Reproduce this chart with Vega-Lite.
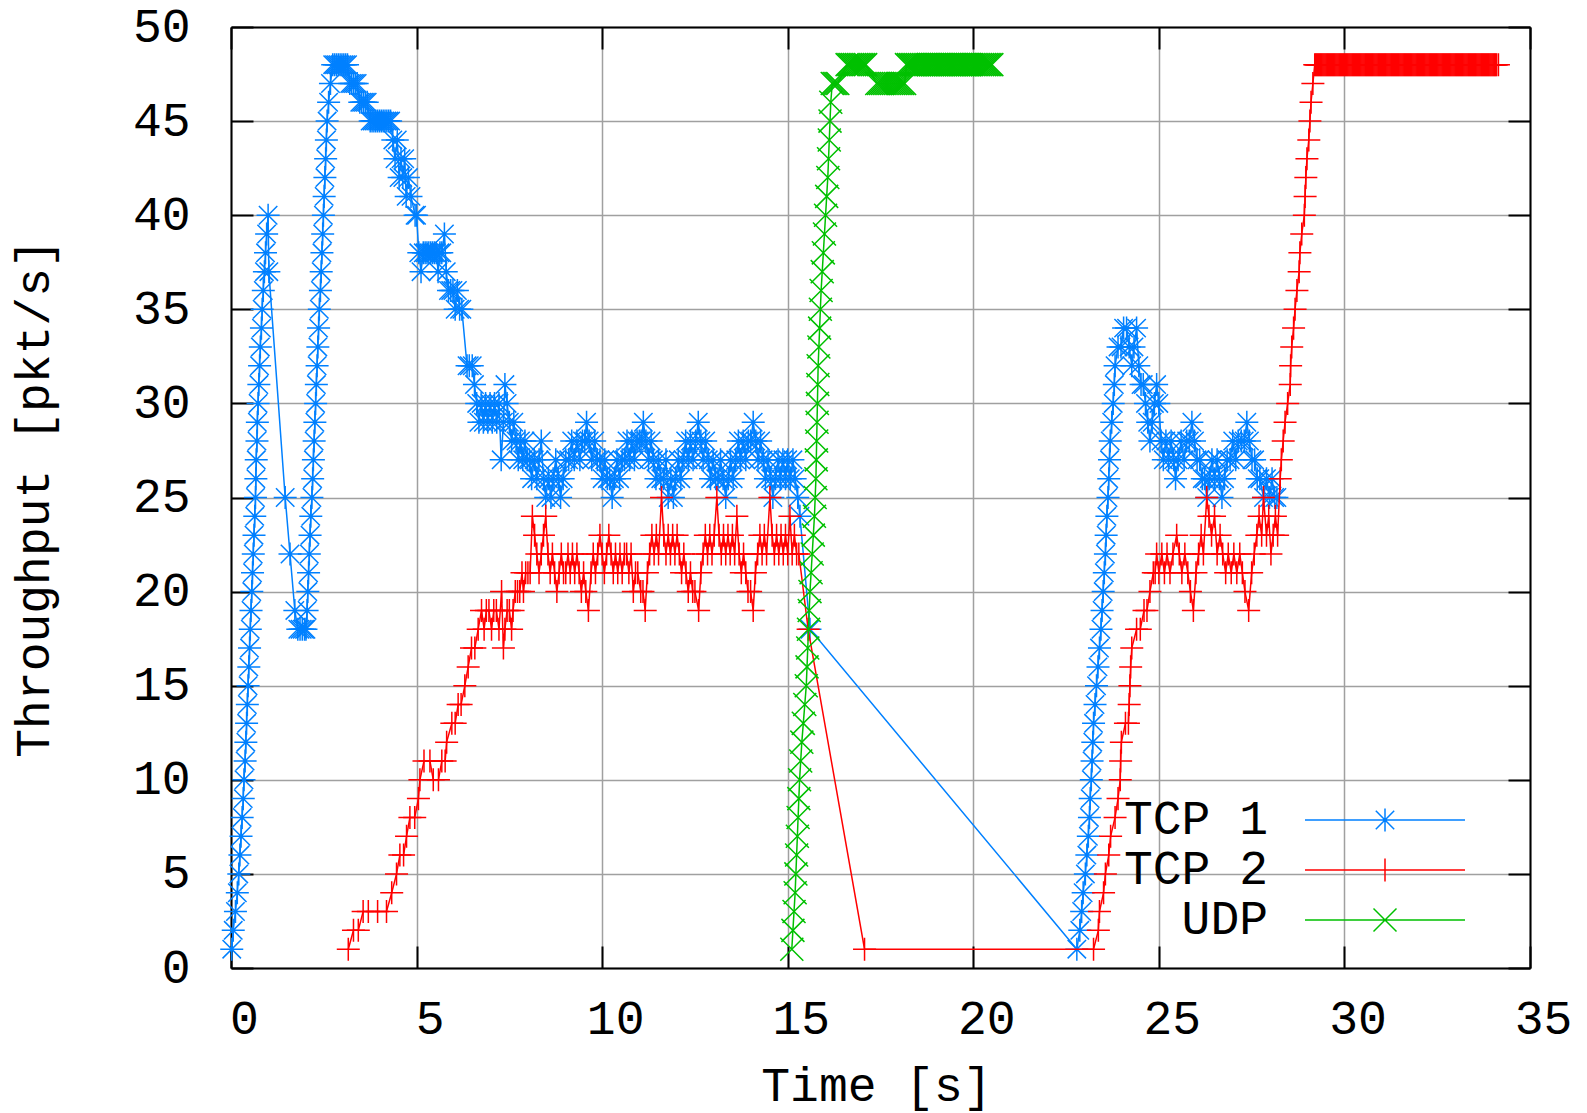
{
"$schema": "https://vega.github.io/schema/vega-lite/v6.json",
"width": 1299, "height": 941,
"autosize": {"type": "none"},
"padding": {"left": 231, "top": 27, "right": 57, "bottom": 145},
"background": "white",
"config": {
  "font": "Liberation Mono",
  "view": {"stroke": null},
  "axis": {"labelFont": "Liberation Mono", "labelFontSize": 48, "labelColor": "black", "titleFont": "Liberation Mono", "titleFontSize": 48, "titleFontWeight": "normal", "titleColor": "black", "domainColor": "black", "domainWidth": 2, "tickColor": "black", "tickWidth": 2, "tickSize": -22, "gridColor": "#a0a0a0", "gridWidth": 1.5, "gridOpacity": 1, "labelFlush": false, "labelOverlap": false}
},
"datasets": {
"tcp1": [{"t":0.02,"v":1},{"t":0.06,"v":2},{"t":0.12,"v":3},{"t":0.17,"v":4},{"t":0.21,"v":5},{"t":0.24,"v":6},{"t":0.27,"v":7},{"t":0.3,"v":8},{"t":0.33,"v":9},{"t":0.35,"v":10},{"t":0.38,"v":11},{"t":0.4,"v":12},{"t":0.42,"v":13},{"t":0.44,"v":14},{"t":0.46,"v":15},{"t":0.48,"v":16},{"t":0.5,"v":17},{"t":0.52,"v":18},{"t":0.54,"v":19},{"t":0.56,"v":20},{"t":0.58,"v":21},{"t":0.6,"v":22},{"t":0.62,"v":23},{"t":0.64,"v":24},{"t":0.66,"v":25},{"t":0.67,"v":26},{"t":0.68,"v":27},{"t":0.7,"v":28},{"t":0.71,"v":29},{"t":0.73,"v":30},{"t":0.75,"v":31},{"t":0.77,"v":32},{"t":0.79,"v":33},{"t":0.82,"v":34},{"t":0.84,"v":35},{"t":0.87,"v":36},{"t":0.9,"v":37},{"t":0.93,"v":38},{"t":0.96,"v":39},{"t":1.0,"v":40},
{"t":1.02,"v":37},{"t":1.46,"v":25},{"t":1.59,"v":22},{"t":1.72,"v":19},{"t":1.8,"v":18},{"t":1.86,"v":18},{"t":1.92,"v":18},{"t":1.98,"v":18},{"t":2.02,"v":18},
{"t":2.05,"v":19},{"t":2.07,"v":20},{"t":2.09,"v":21},{"t":2.11,"v":22},{"t":2.13,"v":23},{"t":2.15,"v":24},{"t":2.18,"v":25},{"t":2.2,"v":26},{"t":2.22,"v":27},{"t":2.24,"v":28},{"t":2.26,"v":29},{"t":2.28,"v":30},{"t":2.3,"v":31},{"t":2.32,"v":32},{"t":2.34,"v":33},{"t":2.36,"v":34},{"t":2.38,"v":35},{"t":2.41,"v":36},{"t":2.43,"v":37},{"t":2.45,"v":38},{"t":2.47,"v":39},{"t":2.49,"v":40},{"t":2.51,"v":41},{"t":2.53,"v":42},{"t":2.55,"v":43},{"t":2.57,"v":44},{"t":2.59,"v":45},{"t":2.63,"v":46},{"t":2.68,"v":47},
{"t":2.74,"v":48},{"t":2.79,"v":48},{"t":2.84,"v":48},{"t":2.89,"v":48},{"t":2.94,"v":48},{"t":2.99,"v":48},{"t":3.04,"v":48},{"t":3.09,"v":48},{"t":3.14,"v":48},
{"t":3.2,"v":47},{"t":3.25,"v":47},{"t":3.3,"v":47},{"t":3.35,"v":47},{"t":3.4,"v":47},
{"t":3.47,"v":46},{"t":3.52,"v":46},{"t":3.57,"v":46},{"t":3.62,"v":46},{"t":3.67,"v":46},
{"t":3.75,"v":45},{"t":3.8,"v":45},{"t":3.85,"v":45},{"t":3.9,"v":45},{"t":3.95,"v":45},{"t":4.0,"v":45},{"t":4.05,"v":45},{"t":4.1,"v":45},{"t":4.15,"v":45},{"t":4.2,"v":45},{"t":4.25,"v":45},{"t":4.3,"v":45},
{"t":4.36,"v":44},{"t":4.42,"v":43},{"t":4.48,"v":44},{"t":4.53,"v":42},{"t":4.58,"v":43},{"t":4.63,"v":42},{"t":4.68,"v":43},{"t":4.72,"v":41},{"t":4.78,"v":42},{"t":4.85,"v":41},{"t":4.96,"v":40},{"t":5.0,"v":40},
{"t":5.06,"v":38},{"t":5.12,"v":37},{"t":5.18,"v":38},{"t":5.23,"v":38},{"t":5.28,"v":38},{"t":5.33,"v":38},{"t":5.38,"v":38},{"t":5.43,"v":38},{"t":5.48,"v":38},{"t":5.53,"v":38},{"t":5.58,"v":37},{"t":5.63,"v":38},{"t":5.68,"v":38},{"t":5.75,"v":39},{"t":5.8,"v":37},
{"t":5.86,"v":36},{"t":5.92,"v":36},{"t":5.98,"v":36},{"t":6.04,"v":35},{"t":6.1,"v":36},{"t":6.16,"v":35},{"t":6.22,"v":35},
{"t":6.36,"v":32},{"t":6.42,"v":32},{"t":6.5,"v":32},{"t":6.56,"v":31},
{"t":6.62,"v":30},{"t":6.68,"v":29},{"t":6.74,"v":30},{"t":6.8,"v":29},{"t":6.86,"v":30},{"t":6.92,"v":29},{"t":6.98,"v":30},{"t":7.04,"v":29},{"t":7.1,"v":30},{"t":7.16,"v":29},{"t":7.22,"v":30},{"t":7.28,"v":27},{"t":7.34,"v":29},{"t":7.38,"v":31},{"t":7.44,"v":30},{"t":7.5,"v":29},{"t":7.56,"v":28},{"t":7.62,"v":29},{"t":7.68,"v":28},{"t":7.74,"v":27},{"t":7.8,"v":28},{"t":7.86,"v":27},{"t":7.92,"v":28},{"t":7.98,"v":27},
{"t":8.04,"v":27},{"t":8.1,"v":26},{"t":8.17,"v":27},{"t":8.24,"v":26},{"t":8.3,"v":27},{"t":8.36,"v":28},{"t":8.42,"v":26},{"t":8.48,"v":25},{"t":8.55,"v":26},{"t":8.62,"v":25},{"t":8.68,"v":26},{"t":8.75,"v":27},{"t":8.82,"v":26},{"t":8.88,"v":25},{"t":8.95,"v":26},{"t":9.02,"v":27},{"t":9.1,"v":27},{"t":9.18,"v":28},{"t":9.25,"v":27},{"t":9.32,"v":28},{"t":9.4,"v":27},{"t":9.47,"v":28},{"t":9.53,"v":28},{"t":9.58,"v":29},{"t":9.65,"v":28},{"t":9.72,"v":27},{"t":9.8,"v":28},{"t":9.87,"v":27},{"t":9.94,"v":27},{"t":10.0,"v":26},{"t":10.07,"v":27},{"t":10.14,"v":26},{"t":10.2,"v":26},{"t":10.27,"v":25},{"t":10.33,"v":26},{"t":10.4,"v":27},{"t":10.47,"v":26},{"t":10.54,"v":27},{"t":10.6,"v":27},{"t":10.67,"v":28},{"t":10.74,"v":27},{"t":10.8,"v":28},{"t":10.87,"v":27},{"t":10.94,"v":28},{"t":11.0,"v":28},{"t":11.05,"v":28},{"t":11.11,"v":29},{"t":11.18,"v":28},{"t":11.25,"v":27},{"t":11.32,"v":28},{"t":11.38,"v":27},{"t":11.45,"v":26},{"t":11.52,"v":27},{"t":11.58,"v":26},{"t":11.65,"v":26},{"t":11.72,"v":27},{"t":11.78,"v":25},{"t":11.85,"v":26},{"t":11.92,"v":25},{"t":11.98,"v":26},{"t":12.05,"v":27},{"t":12.12,"v":26},{"t":12.18,"v":27},{"t":12.25,"v":28},{"t":12.32,"v":27},{"t":12.38,"v":28},{"t":12.45,"v":27},{"t":12.52,"v":28},{"t":12.59,"v":29},{"t":12.66,"v":28},{"t":12.72,"v":27},{"t":12.79,"v":28},{"t":12.86,"v":27},{"t":12.92,"v":26},{"t":12.99,"v":27},{"t":13.06,"v":26},{"t":13.12,"v":26},{"t":13.19,"v":27},{"t":13.26,"v":26},{"t":13.33,"v":25},{"t":13.4,"v":26},{"t":13.46,"v":27},{"t":13.53,"v":26},{"t":13.6,"v":27},{"t":13.67,"v":28},{"t":13.73,"v":27},{"t":13.8,"v":28},{"t":13.87,"v":27},{"t":13.94,"v":28},{"t":14.0,"v":28},{"t":14.07,"v":29},{"t":14.14,"v":28},{"t":14.2,"v":27},{"t":14.27,"v":28},{"t":14.34,"v":27},{"t":14.4,"v":26},{"t":14.47,"v":27},{"t":14.54,"v":26},{"t":14.6,"v":25},{"t":14.67,"v":26},{"t":14.74,"v":27},{"t":14.8,"v":26},{"t":14.87,"v":27},{"t":14.94,"v":26},{"t":15.0,"v":27},{"t":15.07,"v":26},{"t":15.14,"v":27},{"t":15.2,"v":26},{"t":15.27,"v":25},{"t":15.33,"v":24},
{"t":15.6,"v":18},
{"t":22.79,"v":1},{"t":22.87,"v":2},{"t":22.92,"v":3},{"t":22.96,"v":4},{"t":23.02,"v":5},{"t":23.06,"v":6},{"t":23.1,"v":7},{"t":23.13,"v":8},{"t":23.15,"v":9},{"t":23.18,"v":10},{"t":23.2,"v":11},{"t":23.22,"v":12},{"t":23.24,"v":13},{"t":23.28,"v":14},{"t":23.32,"v":15},{"t":23.36,"v":16},{"t":23.4,"v":17},{"t":23.44,"v":18},{"t":23.47,"v":19},{"t":23.5,"v":20},{"t":23.53,"v":21},{"t":23.56,"v":22},{"t":23.58,"v":23},{"t":23.6,"v":24},{"t":23.63,"v":25},{"t":23.65,"v":26},{"t":23.67,"v":27},{"t":23.69,"v":28},{"t":23.73,"v":29},{"t":23.77,"v":30},{"t":23.8,"v":31},{"t":23.82,"v":32},{"t":23.9,"v":33},{"t":23.98,"v":33},{"t":24.05,"v":34},
{"t":24.13,"v":34},{"t":24.2,"v":33},{"t":24.27,"v":32},{"t":24.33,"v":33},{"t":24.4,"v":34},{"t":24.46,"v":32},{"t":24.52,"v":31},{"t":24.58,"v":31},{"t":24.64,"v":30},{"t":24.7,"v":29},{"t":24.76,"v":28},{"t":24.82,"v":29},{"t":24.88,"v":30},{"t":24.94,"v":31},{"t":25.0,"v":30},{"t":25.06,"v":28},{"t":25.12,"v":27},{"t":25.19,"v":28},{"t":25.26,"v":27},{"t":25.33,"v":28},{"t":25.4,"v":27},{"t":25.45,"v":26},{"t":25.52,"v":27},{"t":25.6,"v":28},{"t":25.68,"v":27},{"t":25.75,"v":28},{"t":25.82,"v":28},{"t":25.89,"v":29},{"t":25.96,"v":28},{"t":26.03,"v":27},{"t":26.1,"v":27},{"t":26.17,"v":26},{"t":26.23,"v":26},{"t":26.29,"v":25},{"t":26.36,"v":26},{"t":26.43,"v":27},{"t":26.5,"v":26},{"t":26.57,"v":27},{"t":26.63,"v":26},{"t":26.7,"v":25},{"t":26.77,"v":26},{"t":26.84,"v":27},{"t":26.92,"v":27},{"t":26.99,"v":28},{"t":27.07,"v":27},{"t":27.14,"v":28},{"t":27.22,"v":28},{"t":27.3,"v":28},{"t":27.37,"v":29},{"t":27.44,"v":28},{"t":27.51,"v":27},{"t":27.58,"v":27},{"t":27.65,"v":26},{"t":27.72,"v":26},{"t":27.82,"v":25},{"t":27.9,"v":26},{"t":27.98,"v":25},{"t":28.05,"v":26},{"t":28.12,"v":25},{"t":28.18,"v":25}],
"tcp2": [{"t":3.16,"v":1},{"t":3.3,"v":2},{"t":3.43,"v":2},{"t":3.56,"v":3},{"t":3.7,"v":3},{"t":3.95,"v":3},{"t":4.19,"v":3},{"t":4.33,"v":4},{"t":4.46,"v":5},{"t":4.55,"v":6},{"t":4.65,"v":6},{"t":4.73,"v":7},{"t":4.82,"v":8},{"t":4.95,"v":8},{"t":5.05,"v":9},{"t":5.09,"v":10},{"t":5.2,"v":11},{"t":5.36,"v":11},{"t":5.45,"v":10},{"t":5.59,"v":10},{"t":5.68,"v":11},{"t":5.77,"v":11},{"t":5.81,"v":12},{"t":5.95,"v":13},{"t":6.04,"v":13},{"t":6.12,"v":14},{"t":6.2,"v":14},{"t":6.3,"v":15},{"t":6.39,"v":16},{"t":6.48,"v":17},{"t":6.57,"v":17},{"t":6.66,"v":18},{"t":6.75,"v":19},{"t":6.82,"v":18},{"t":6.88,"v":19},{"t":6.95,"v":19},{"t":7.02,"v":18},{"t":7.08,"v":19},{"t":7.15,"v":19},{"t":7.22,"v":18},{"t":7.29,"v":20},{"t":7.34,"v":17},{"t":7.38,"v":18},{"t":7.44,"v":19},{"t":7.5,"v":19},{"t":7.56,"v":18},{"t":7.6,"v":19},{"t":7.66,"v":20},{"t":7.72,"v":20},{"t":7.78,"v":20},{"t":7.84,"v":21},{"t":7.88,"v":20},{"t":7.94,"v":21},{"t":8.0,"v":21},{"t":8.06,"v":21},
{"t":8.12,"v":24},{"t":8.18,"v":23},{"t":8.24,"v":22},{"t":8.3,"v":21},{"t":8.36,"v":22},{"t":8.42,"v":23},{"t":8.48,"v":24},{"t":8.54,"v":22},{"t":8.6,"v":21},{"t":8.66,"v":22},{"t":8.72,"v":21},{"t":8.78,"v":20},{"t":8.84,"v":21},{"t":8.9,"v":22},{"t":8.96,"v":21},{"t":9.02,"v":21},{"t":9.08,"v":22},{"t":9.14,"v":21},{"t":9.2,"v":22},{"t":9.26,"v":21},{"t":9.32,"v":22},{"t":9.38,"v":21},{"t":9.44,"v":20},{"t":9.5,"v":21},{"t":9.56,"v":20},{"t":9.63,"v":19},{"t":9.7,"v":21},{"t":9.76,"v":22},{"t":9.82,"v":21},{"t":9.88,"v":22},{"t":9.94,"v":23},{"t":10.0,"v":22},{"t":10.06,"v":21},{"t":10.12,"v":22},{"t":10.18,"v":23},{"t":10.24,"v":22},{"t":10.3,"v":21},{"t":10.36,"v":22},{"t":10.42,"v":21},{"t":10.48,"v":22},{"t":10.54,"v":21},{"t":10.6,"v":22},{"t":10.66,"v":22},{"t":10.72,"v":21},{"t":10.78,"v":22},{"t":10.84,"v":20},{"t":10.9,"v":21},{"t":10.96,"v":21},{"t":11.04,"v":20},{"t":11.1,"v":20},{"t":11.16,"v":19},{"t":11.22,"v":21},{"t":11.28,"v":22},{"t":11.34,"v":23},{"t":11.4,"v":22},{"t":11.46,"v":23},{"t":11.52,"v":22},{"t":11.6,"v":25},{"t":11.66,"v":23},{"t":11.72,"v":22},{"t":11.78,"v":23},{"t":11.84,"v":22},{"t":11.9,"v":23},{"t":11.96,"v":22},{"t":12.02,"v":23},{"t":12.08,"v":22},{"t":12.14,"v":21},{"t":12.2,"v":22},{"t":12.26,"v":21},{"t":12.32,"v":20},{"t":12.38,"v":21},{"t":12.44,"v":20},{"t":12.5,"v":20},{"t":12.6,"v":19},{"t":12.66,"v":21},{"t":12.72,"v":22},{"t":12.78,"v":23},{"t":12.84,"v":22},{"t":12.9,"v":23},{"t":12.96,"v":22},{"t":13.02,"v":23},{"t":13.09,"v":25},{"t":13.15,"v":23},{"t":13.21,"v":22},{"t":13.27,"v":23},{"t":13.33,"v":22},{"t":13.39,"v":23},{"t":13.45,"v":22},{"t":13.51,"v":23},{"t":13.57,"v":22},{"t":13.63,"v":24},{"t":13.69,"v":22},{"t":13.75,"v":21},{"t":13.81,"v":22},{"t":13.87,"v":21},{"t":13.93,"v":20},{"t":14.0,"v":20},{"t":14.07,"v":19},{"t":14.13,"v":21},{"t":14.19,"v":22},{"t":14.25,"v":23},{"t":14.31,"v":22},{"t":14.37,"v":23},{"t":14.43,"v":22},{"t":14.52,"v":25},{"t":14.58,"v":23},{"t":14.64,"v":22},{"t":14.7,"v":23},{"t":14.76,"v":22},{"t":14.82,"v":23},{"t":14.88,"v":22},{"t":14.94,"v":23},{"t":15.0,"v":22},{"t":15.06,"v":24},{"t":15.12,"v":22},{"t":15.18,"v":23},{"t":15.24,"v":22},{"t":15.3,"v":22},
{"t":15.55,"v":18},{"t":17.07,"v":1},{"t":23.24,"v":1},
{"t":23.37,"v":2},{"t":23.4,"v":3},{"t":23.51,"v":4},{"t":23.56,"v":5},{"t":23.65,"v":6},{"t":23.7,"v":7},{"t":23.82,"v":8},{"t":23.9,"v":9},{"t":23.96,"v":10},{"t":23.97,"v":11},{"t":23.99,"v":12},{"t":24.1,"v":13},{"t":24.18,"v":13},{"t":24.2,"v":14},{"t":24.22,"v":15},{"t":24.24,"v":16},{"t":24.27,"v":17},{"t":24.4,"v":18},{"t":24.5,"v":18},{"t":24.6,"v":19},{"t":24.68,"v":19},{"t":24.76,"v":20},{"t":24.85,"v":21},{"t":24.9,"v":21},{"t":24.94,"v":22},{"t":25.0,"v":21},{"t":25.08,"v":22},{"t":25.15,"v":21},{"t":25.22,"v":22},{"t":25.3,"v":21},{"t":25.38,"v":22},{"t":25.48,"v":23},{"t":25.55,"v":22},{"t":25.62,"v":21},{"t":25.7,"v":22},{"t":25.78,"v":21},{"t":25.85,"v":20},{"t":25.93,"v":19},{"t":26.0,"v":21},{"t":26.07,"v":22},{"t":26.14,"v":23},{"t":26.2,"v":22},{"t":26.29,"v":25},{"t":26.35,"v":24},{"t":26.42,"v":23},{"t":26.5,"v":24},{"t":26.57,"v":22},{"t":26.65,"v":23},{"t":26.72,"v":22},{"t":26.8,"v":21},{"t":26.87,"v":22},{"t":26.95,"v":21},{"t":27.02,"v":22},{"t":27.1,"v":21},{"t":27.18,"v":22},{"t":27.25,"v":21},{"t":27.32,"v":20},{"t":27.42,"v":19},{"t":27.5,"v":21},{"t":27.57,"v":22},{"t":27.64,"v":23},{"t":27.7,"v":24},{"t":27.77,"v":23},{"t":27.82,"v":25},{"t":27.9,"v":23},{"t":27.96,"v":24},{"t":28.02,"v":22},{"t":28.08,"v":23},{"t":28.14,"v":24},{"t":28.2,"v":23},
{"t":28.27,"v":26},{"t":28.3,"v":27},{"t":28.35,"v":28},{"t":28.4,"v":29},{"t":28.47,"v":30},{"t":28.54,"v":31},{"t":28.55,"v":32},{"t":28.58,"v":33},{"t":28.63,"v":34},{"t":28.67,"v":35},{"t":28.72,"v":36},{"t":28.78,"v":37},{"t":28.8,"v":38},{"t":28.85,"v":39},{"t":28.92,"v":40},{"t":28.94,"v":41},{"t":28.96,"v":42},{"t":28.99,"v":43},{"t":29.04,"v":44},{"t":29.07,"v":45},{"t":29.1,"v":46},{"t":29.15,"v":47},
{"t":29.2,"v":48},{"t":29.225,"v":48},{"t":29.25,"v":48},{"t":29.275,"v":48},{"t":29.3,"v":48},{"t":29.325,"v":48},{"t":29.35,"v":48},{"t":29.375,"v":48},{"t":29.4,"v":48},{"t":29.425,"v":48},{"t":29.45,"v":48},{"t":29.475,"v":48},{"t":29.5,"v":48},{"t":29.525,"v":48},{"t":29.55,"v":48},{"t":29.575,"v":48},{"t":29.6,"v":48},{"t":29.625,"v":48},{"t":29.65,"v":48},{"t":29.675,"v":48},{"t":29.7,"v":48},{"t":29.725,"v":48},{"t":29.75,"v":48},{"t":29.775,"v":48},{"t":29.8,"v":48},{"t":29.825,"v":48},{"t":29.85,"v":48},{"t":29.875,"v":48},{"t":29.9,"v":48},{"t":29.925,"v":48},{"t":29.95,"v":48},{"t":29.975,"v":48},{"t":30.0,"v":48},{"t":30.025,"v":48},{"t":30.05,"v":48},{"t":30.075,"v":48},{"t":30.1,"v":48},{"t":30.125,"v":48},{"t":30.15,"v":48},{"t":30.175,"v":48},{"t":30.2,"v":48},{"t":30.225,"v":48},{"t":30.25,"v":48},{"t":30.275,"v":48},{"t":30.3,"v":48},{"t":30.325,"v":48},{"t":30.35,"v":48},{"t":30.375,"v":48},{"t":30.4,"v":48},{"t":30.425,"v":48},{"t":30.45,"v":48},{"t":30.475,"v":48},{"t":30.5,"v":48},{"t":30.525,"v":48},{"t":30.55,"v":48},{"t":30.575,"v":48},{"t":30.6,"v":48},{"t":30.625,"v":48},{"t":30.65,"v":48},{"t":30.675,"v":48},{"t":30.7,"v":48},{"t":30.725,"v":48},{"t":30.75,"v":48},{"t":30.775,"v":48},{"t":30.8,"v":48},{"t":30.825,"v":48},{"t":30.85,"v":48},{"t":30.875,"v":48},{"t":30.9,"v":48},{"t":30.925,"v":48},{"t":30.95,"v":48},{"t":30.975,"v":48},{"t":31.0,"v":48},{"t":31.025,"v":48},{"t":31.05,"v":48},{"t":31.075,"v":48},{"t":31.1,"v":48},{"t":31.125,"v":48},{"t":31.15,"v":48},{"t":31.175,"v":48},{"t":31.2,"v":48},{"t":31.225,"v":48},{"t":31.25,"v":48},{"t":31.275,"v":48},{"t":31.3,"v":48},{"t":31.325,"v":48},{"t":31.35,"v":48},{"t":31.375,"v":48},{"t":31.4,"v":48},{"t":31.425,"v":48},{"t":31.45,"v":48},{"t":31.475,"v":48},{"t":31.5,"v":48},{"t":31.525,"v":48},{"t":31.55,"v":48},{"t":31.575,"v":48},{"t":31.6,"v":48},{"t":31.625,"v":48},{"t":31.65,"v":48},{"t":31.675,"v":48},{"t":31.7,"v":48},{"t":31.725,"v":48},{"t":31.75,"v":48},{"t":31.775,"v":48},{"t":31.8,"v":48},{"t":31.825,"v":48},{"t":31.85,"v":48},{"t":31.875,"v":48},{"t":31.9,"v":48},{"t":31.925,"v":48},{"t":31.95,"v":48},{"t":31.975,"v":48},{"t":32.0,"v":48},{"t":32.025,"v":48},{"t":32.05,"v":48},{"t":32.075,"v":48},{"t":32.1,"v":48},{"t":32.125,"v":48},{"t":32.15,"v":48},{"t":32.175,"v":48},{"t":32.2,"v":48},{"t":32.225,"v":48},{"t":32.25,"v":48},{"t":32.275,"v":48},{"t":32.3,"v":48},{"t":32.325,"v":48},{"t":32.35,"v":48},{"t":32.375,"v":48},{"t":32.4,"v":48},{"t":32.425,"v":48},{"t":32.45,"v":48},{"t":32.475,"v":48},{"t":32.5,"v":48},{"t":32.525,"v":48},{"t":32.55,"v":48},{"t":32.575,"v":48},{"t":32.6,"v":48},{"t":32.625,"v":48},{"t":32.65,"v":48},{"t":32.675,"v":48},{"t":32.7,"v":48},{"t":32.725,"v":48},{"t":32.75,"v":48},{"t":32.775,"v":48},{"t":32.8,"v":48},{"t":32.825,"v":48},{"t":32.85,"v":48},{"t":32.875,"v":48},{"t":32.9,"v":48},{"t":32.925,"v":48},{"t":32.95,"v":48},{"t":32.975,"v":48},{"t":33.0,"v":48},{"t":33.025,"v":48},{"t":33.05,"v":48},{"t":33.075,"v":48},{"t":33.1,"v":48},{"t":33.125,"v":48},{"t":33.15,"v":48},{"t":33.175,"v":48},{"t":33.2,"v":48},{"t":33.225,"v":48},{"t":33.25,"v":48},{"t":33.275,"v":48},{"t":33.3,"v":48},{"t":33.325,"v":48},{"t":33.35,"v":48},{"t":33.375,"v":48},{"t":33.4,"v":48},{"t":33.425,"v":48},{"t":33.45,"v":48},{"t":33.475,"v":48},{"t":33.5,"v":48},{"t":33.525,"v":48},{"t":33.55,"v":48},{"t":33.575,"v":48},{"t":33.6,"v":48},{"t":33.625,"v":48},{"t":33.65,"v":48},{"t":33.675,"v":48},{"t":33.7,"v":48},{"t":33.725,"v":48},{"t":33.75,"v":48},{"t":33.775,"v":48},{"t":33.8,"v":48},{"t":33.825,"v":48},{"t":33.85,"v":48},{"t":33.875,"v":48},{"t":33.9,"v":48},{"t":33.925,"v":48},{"t":33.95,"v":48},{"t":33.975,"v":48},{"t":34.0,"v":48},{"t":34.025,"v":48},{"t":34.05,"v":48},{"t":34.075,"v":48},{"t":34.1,"v":48},{"t":34.15,"v":48}],
"udp": [{"t":15.11,"v":1},{"t":15.14,"v":2},{"t":15.17,"v":3},{"t":15.2,"v":4},{"t":15.22,"v":5},{"t":15.24,"v":6},{"t":15.26,"v":7},{"t":15.28,"v":8},{"t":15.3,"v":9},{"t":15.32,"v":10},{"t":15.35,"v":11},{"t":15.38,"v":12},{"t":15.42,"v":13},{"t":15.46,"v":14},{"t":15.5,"v":15},{"t":15.52,"v":16},{"t":15.54,"v":17},{"t":15.56,"v":18},{"t":15.58,"v":19},{"t":15.6,"v":20},{"t":15.63,"v":21},{"t":15.66,"v":22},{"t":15.69,"v":23},{"t":15.72,"v":24},{"t":15.74,"v":25},{"t":15.76,"v":26},{"t":15.77,"v":27},{"t":15.78,"v":28},{"t":15.79,"v":29},{"t":15.8,"v":30},{"t":15.81,"v":31},{"t":15.82,"v":32},{"t":15.84,"v":33},{"t":15.86,"v":34},{"t":15.88,"v":35},{"t":15.9,"v":36},{"t":15.93,"v":37},{"t":15.96,"v":38},{"t":15.99,"v":39},{"t":16.02,"v":40},{"t":16.05,"v":41},{"t":16.08,"v":42},{"t":16.1,"v":43},{"t":16.12,"v":44},{"t":16.14,"v":45},{"t":16.16,"v":46},
{"t":16.2,"v":47},{"t":16.25,"v":47},{"t":16.3,"v":47},{"t":16.35,"v":47},
{"t":16.6,"v":48},{"t":16.65,"v":48},{"t":16.7,"v":48},{"t":16.75,"v":48},{"t":16.8,"v":48},{"t":16.85,"v":48},{"t":16.9,"v":48},{"t":16.95,"v":48},{"t":17.0,"v":48},{"t":17.05,"v":48},{"t":17.1,"v":48},
{"t":17.4,"v":47},{"t":17.45,"v":47},{"t":17.5,"v":47},{"t":17.55,"v":47},{"t":17.6,"v":47},{"t":17.65,"v":47},{"t":17.7,"v":47},{"t":17.75,"v":47},{"t":17.8,"v":47},{"t":17.85,"v":47},{"t":17.9,"v":47},{"t":17.95,"v":47},{"t":18.0,"v":47},{"t":18.05,"v":47},{"t":18.1,"v":47},{"t":18.15,"v":47},
{"t":18.2,"v":48},{"t":18.25,"v":48},{"t":18.3,"v":48},{"t":18.35,"v":48},{"t":18.4,"v":48},{"t":18.45,"v":48},{"t":18.5,"v":48},{"t":18.55,"v":48},{"t":18.6,"v":48},{"t":18.65,"v":48},{"t":18.7,"v":48},{"t":18.75,"v":48},{"t":18.8,"v":48},{"t":18.85,"v":48},{"t":18.9,"v":48},{"t":18.95,"v":48},{"t":19.0,"v":48},{"t":19.05,"v":48},{"t":19.1,"v":48},{"t":19.15,"v":48},{"t":19.2,"v":48},{"t":19.25,"v":48},{"t":19.3,"v":48},{"t":19.35,"v":48},{"t":19.4,"v":48},{"t":19.45,"v":48},{"t":19.5,"v":48},{"t":19.55,"v":48},{"t":19.6,"v":48},{"t":19.65,"v":48},{"t":19.7,"v":48},{"t":19.75,"v":48},{"t":19.8,"v":48},{"t":19.85,"v":48},{"t":19.9,"v":48},{"t":19.95,"v":48},{"t":20.0,"v":48},{"t":20.05,"v":48},{"t":20.1,"v":48},{"t":20.15,"v":48},{"t":20.2,"v":48},{"t":20.25,"v":48},{"t":20.3,"v":48},{"t":20.35,"v":48},{"t":20.4,"v":48},{"t":20.45,"v":48},{"t":20.5,"v":48}]
},
"layer": [
 {
  "layer": [
   {"data": {"name": "tcp1"}, "mark": {"type": "line", "strokeWidth": 1.5},
    "encoding": {
     "x": {"field": "t", "type": "quantitative", "scale": {"domain": [0, 35], "nice": false, "zero": false},
       "axis": {"values": [0,5,10,15,20,25,30,35], "title": "Time [s]", "titleX": 645, "titleY": 132, "titleAlign": "center", "titleBaseline": "alphabetic", "labelOffset": 13, "labelPadding": 87, "labelBaseline": "alphabetic", "grid": true}},
     "y": {"field": "v", "type": "quantitative", "scale": {"domain": [0, 50], "nice": false, "zero": false},
       "axis": {"values": [0,5,10,15,20,25,30,35,40,45,50], "title": "Throughput [pkt/s]", "titleX": -183, "titleY": 471, "titleAngle": 270, "titleAlign": "center", "titleBaseline": "alphabetic", "labelPadding": 63, "labelBaseline": "middle", "grid": true}},
     "color": {"datum": "TCP 1", "type": "nominal",
       "scale": {"domain": ["TCP 1", "TCP 2", "UDP"], "range": ["#0080ff", "#ff0000", "#00c000"]},
       "legend": {"title": null, "orient": "none", "legendX": 1130, "legendY": 769, "padding": 0, "rowPadding": 2, "symbolSize": 1600, "symbolStrokeWidth": 1.5, "labelFont": "Liberation Mono", "labelFontSize": 48, "labelColor": "black", "labelAlign": "right", "labelOffset": -141, "labelLimit": 0,
         "encode": {"symbols": {"update": {"shape": {"signal": "datum.value === 'TCP 1' ? 'M-4,0H4M0,-0.575V0.575M-0.46,-0.46L0.46,0.46M-0.46,0.46L0.46,-0.46' : datum.value === 'TCP 2' ? 'M-4,0H4M0,-0.575V0.575' : 'M-4,0H4M-0.575,-0.575L0.575,0.575M-0.575,0.575L0.575,-0.575'"}, "fill": {"value": "transparent"}, "strokeWidth": {"value": 1.5}, "opacity": {"value": 1}}}}}}
    }},
   {"data": {"name": "tcp1"}, "mark": {"type": "point", "shape": "M-1,0H1M0,-1V1M-0.8,-0.8L0.8,0.8M-0.8,0.8L0.8,-0.8", "size": 530, "filled": false, "strokeWidth": 1.5, "opacity": 1},
    "encoding": {"x": {"field": "t", "type": "quantitative"}, "y": {"field": "v", "type": "quantitative"}, "color": {"datum": "TCP 1", "type": "nominal"}}},
   {"data": {"name": "tcp2"}, "mark": {"type": "line", "strokeWidth": 1.5},
    "encoding": {"x": {"field": "t", "type": "quantitative"}, "y": {"field": "v", "type": "quantitative"}, "color": {"datum": "TCP 2", "type": "nominal"}}},
   {"data": {"name": "tcp2"}, "mark": {"type": "point", "shape": "M-1,0H1M0,-1V1", "size": 530, "filled": false, "strokeWidth": 1.5, "opacity": 1},
    "encoding": {"x": {"field": "t", "type": "quantitative"}, "y": {"field": "v", "type": "quantitative"}, "color": {"datum": "TCP 2", "type": "nominal"}}},
   {"data": {"name": "udp"}, "mark": {"type": "line", "strokeWidth": 1.5},
    "encoding": {"x": {"field": "t", "type": "quantitative"}, "y": {"field": "v", "type": "quantitative"}, "color": {"datum": "UDP", "type": "nominal"}}},
   {"data": {"name": "udp"}, "mark": {"type": "point", "shape": "M-1,-1L1,1M-1,1L1,-1", "size": 530, "filled": false, "strokeWidth": 1.5, "opacity": 1},
    "encoding": {"x": {"field": "t", "type": "quantitative"}, "y": {"field": "v", "type": "quantitative"}, "color": {"datum": "UDP", "type": "nominal"}}}
  ]
 },
 {"data": {"name": "udp"}, "mark": {"type": "point", "opacity": 0},
  "encoding": {
   "x": {"field": "t", "type": "quantitative", "axis": {"orient": "top", "values": [0,5,10,15,20,25,30,35], "labels": false, "title": null, "grid": false}},
   "y": {"field": "v", "type": "quantitative", "axis": {"orient": "right", "values": [0,5,10,15,20,25,30,35,40,45,50], "labels": false, "title": null, "grid": false}}
  }}
],
"resolve": {"axis": {"x": "independent", "y": "independent"}}
}
